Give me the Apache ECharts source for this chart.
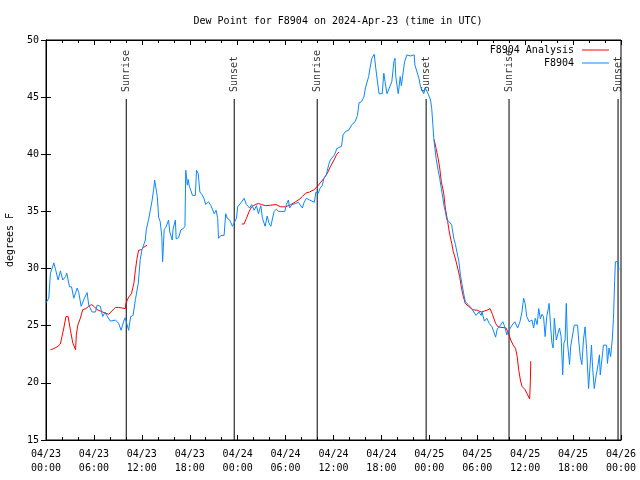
<!DOCTYPE html>
<html><head><meta charset="utf-8">
<script src="https://cdn.jsdelivr.net/npm/echarts@6/dist/echarts.min.js"></script>
<style>html,body{margin:0;padding:0;background:#fff}#c{width:640px;height:480px}</style>
</head><body><div id="c"></div>
<script>
// ---- data (hours since 2024-04-23 00:00 UTC, dew point °F) ----
const xTickLabels = ['04/23\n00:00','04/23\n06:00','04/23\n12:00','04/23\n18:00',
  '04/24\n00:00','04/24\n06:00','04/24\n12:00','04/24\n18:00',
  '04/25\n00:00','04/25\n06:00','04/25\n12:00','04/25\n18:00','04/26\n00:00'];
const yTicks = [15,20,25,30,35,40,45,50];

const obsHours = [0.0,0.35,0.56,0.75,0.98,1.2,1.52,1.8,2.1,2.45,2.6,2.94,3.2,3.48,3.9,4.1,4.4,4.8,5.15,5.35,5.77,6.2,6.4,6.8,7.1,7.4,7.6,8.06,8.7,9.1,9.4,9.73,9.9,10.1,10.35,10.6,10.9,11.2,11.55,11.8,12.0,12.44,12.56,12.85,13.06,13.27,13.48,13.6,13.8,13.94,14.1,14.3,14.5,14.6,14.8,15.0,15.35,15.5,15.8,15.9,16.2,16.3,16.6,16.9,17.2,17.4,17.5,17.7,17.8,17.95,18.35,18.7,18.85,19.06,19.27,19.5,19.8,20.0,20.35,20.65,20.9,21.06,21.3,21.5,21.6,21.9,22.3,22.5,22.7,23.0,23.35,23.56,23.85,24.0,24.35,24.56,24.8,25.1,25.3,25.5,25.75,26.06,26.35,26.6,26.9,27.1,27.44,27.7,27.9,28.15,28.56,28.85,29.1,29.9,30.1,30.35,30.5,30.8,31.27,31.6,32.1,32.3,32.6,33.0,33.6,33.8,34.1,34.3,34.6,34.8,35.1,35.2,35.4,35.6,35.85,36.06,36.27,36.4,37.0,37.2,37.5,37.9,38.3,38.7,39.0,39.2,39.5,39.8,40.0,40.4,40.56,40.8,41.1,41.3,41.5,41.7,42.1,42.3,42.45,42.7,42.9,43.3,43.56,43.7,43.8,44.1,44.2,44.35,44.5,44.9,45.2,45.6,46.1,46.2,46.7,46.9,47.1,47.3,47.5,47.7,47.9,48.15,48.3,48.44,48.56,48.7,48.85,49.1,49.3,49.5,49.7,49.8,50.0,50.2,50.5,50.8,51.06,51.27,51.5,51.7,51.9,52.1,52.3,52.5,52.94,53.3,53.56,53.85,54.2,54.5,54.6,54.9,55.2,55.5,55.85,56.0,56.3,56.5,56.9,57.2,57.5,57.7,57.9,58.35,58.7,59.06,59.35,59.6,59.8,60.0,60.2,60.5,60.85,61.06,61.27,61.5,61.7,61.9,62.1,62.3,62.5,62.7,62.9,63.0,63.2,63.35,63.5,63.65,63.9,64.06,64.3,64.5,64.7,64.85,65.0,65.15,65.3,65.56,65.7,65.9,66.15,66.56,66.7,66.9,67.1,67.3,67.5,67.7,67.94,68.15,68.3,68.44,68.65,68.9,69.06,69.3,69.4,69.6,69.8,70.2,70.3,70.5,70.7,70.9,71.06,71.2,71.3,71.6,71.75];
const obsDew = [27.0,27.4,29.6,29.5,30.5,29.9,29.0,29.8,29.0,29.3,29.6,28.4,28.4,27.4,28.3,27.9,26.7,27.4,27.9,26.8,26.2,26.2,26.8,26.7,25.8,26.2,25.9,25.4,25.5,25.2,24.6,25.4,25.7,25.8,24.6,25.8,25.9,27.3,28.7,30.8,31.6,32.5,33.4,34.3,35.1,35.9,36.9,37.75,37.75,36.3,34.5,34.1,32.8,30.6,33.4,33.6,34.25,33.2,32.5,33.4,34.25,32.6,32.7,33.4,33.5,33.7,38.6,37.3,37.8,37.2,36.4,36.4,38.6,38.3,36.7,36.5,36.1,35.6,35.85,35.5,35.5,34.8,35.1,34.4,32.65,32.9,32.9,34.8,34.4,34.25,33.7,34.0,34.4,35.4,35.7,35.9,36.15,35.6,35.7,35.3,35.6,35.1,35.5,34.8,35.5,34.4,33.7,34.6,34.0,33.7,35.0,35.2,35.0,35.0,35.6,36.0,35.3,35.6,35.7,35.8,35.3,35.75,36.15,36.0,35.8,36.7,36.6,37.0,37.3,37.9,38.2,38.5,39.1,39.5,39.35,39.9,40.2,40.5,40.7,41.7,42.0,42.1,42.6,42.85,43.4,44.5,44.6,45.0,45.8,46.8,47.5,48.4,48.75,47.5,47.5,45.3,45.3,47.1,46.35,45.3,45.3,46.35,48.1,48.4,46.8,45.3,45.8,46.8,46.0,48.1,48.7,48.6,48.7,47.8,46.65,45.9,45.8,45.3,45.8,45.5,45.2,44.75,44.0,42.6,41.4,40.5,39.65,38.6,37.9,37.0,36.15,35.6,35.0,34.25,34.1,33.8,32.65,32.1,32.1,30.6,29.4,28.6,27.8,27.1,26.8,26.5,26.2,25.9,26.2,25.9,26.2,25.4,25.65,25.2,24.9,25.0,24.0,24.7,25.05,25.35,24.8,24.2,24.5,25.05,25.35,24.8,25.35,26.2,27.4,26.95,25.8,25.35,25.5,24.8,25.65,25.1,26.5,25.6,26.0,25.8,24.05,25.8,26.5,26.95,24.8,23.5,23.05,25.65,23.75,24.2,24.8,24.05,20.7,23.5,23.75,26.95,23.5,21.6,23.2,23.3,25.05,25.05,23.75,22.3,21.6,23.75,24.9,22.9,19.5,19.5,23.3,21.4,19.5,20.7,21.3,22.45,20.7,22.0,23.3,23.3,21.7,23.05,22.3,23.75,25.65,28.85,30.6,30.6,29.9];

// analysis: null marks a gap between runs
const anaHours = [0.56,1.0,1.5,1.8,2.0,2.23,2.5,2.77,3.06,3.35,3.5,3.7,3.8,3.98,4.3,4.6,5.0,5.35,5.7,6.0,6.4,7.1,7.44,7.85,8.27,8.7,9.1,9.94,10.0,10.35,10.7,11.0,11.2,11.4,11.6,11.94,12.2,12.65,
  18.0,
  24.5,24.8,25.1,25.44,25.75,26.2,26.6,27.0,27.5,28.15,28.8,29.4,30.0,30.65,31.27,31.8,32.1,32.5,33.0,33.56,34.0,34.4,34.8,35.2,35.6,36.06,36.4,36.7,
  42.0,
  48.6,48.85,49.1,49.3,49.5,49.8,50.0,50.3,50.5,50.8,51.0,51.3,51.56,51.8,52.0,52.2,52.5,52.9,53.45,54.0,54.5,55.2,55.6,55.9,56.06,56.3,56.6,57.6,57.9,58.2,58.5,58.8,59.0,59.2,59.4,59.6,60.0,60.2,60.56,60.65,60.7];
const anaDew = [22.9,23.0,23.2,23.4,24.05,24.8,25.8,25.8,24.6,23.5,23.5,22.9,24.2,25.05,25.65,26.4,26.5,26.7,26.85,26.7,26.4,26.2,26.1,26.0,26.3,26.6,26.6,26.5,26.95,27.5,27.8,28.7,29.9,30.9,31.6,31.65,31.85,32.05,
  null,
  33.9,33.9,34.4,35.0,35.4,35.6,35.7,35.6,35.5,35.55,35.6,35.4,35.4,35.6,35.85,36.1,36.3,36.6,36.7,36.9,37.2,37.55,37.9,38.3,38.9,39.5,40.0,40.2,
  null,
  41.3,40.5,39.65,38.8,37.6,36.6,35.3,34.1,33.2,32.2,31.5,30.75,30.0,29.3,28.4,27.7,26.95,26.7,26.4,26.35,26.2,26.35,26.5,26.0,25.9,25.2,24.9,24.8,24.35,23.75,23.3,23.0,22.3,21.1,20.25,19.7,19.4,19.1,18.6,20.1,21.9];

const sunNames = ['Sunrise','Sunset','Sunrise','Sunset','Sunrise','Sunset'];
const sunHours = [10.05,23.57,33.96,47.6,57.98,71.63];
const sunLineTop = 44.84;
const sunLabelBase = 45.45;

// ---- chart ----
const FONT = 'DejaVu Sans Mono';
const txt = {fontFamily: FONT, fontSize: 10, color: '#000'};
const BLUE = '#0a88ff', RED = '#ff0000';

const obsData = obsHours.map((h,i)=>[h, obsDew[i]]);
const anaData = anaHours.map((h,i)=> anaDew[i]===null ? [h,'-'] : [h, anaDew[i]]);

const sunLineSeries = sunHours.map(h => ({
  type:'line', silent:true, symbol:'none', animation:false,
  lineStyle:{color:'#000', width:1}, data:[[h,15],[h,sunLineTop]], z:1
}));

const chart = echarts.init(document.getElementById('c'), null, {renderer:'canvas'});
chart.setOption({
  animation:false,
  backgroundColor:'#fff',
  title:{text:'Dew Point for F8904 on 2024-Apr-23 (time in UTC)', left:333, top:11, textAlign:'center',
    textStyle:Object.assign({fontWeight:'normal'}, txt)},
  grid:{left:46, right:19, top:40, bottom:40, containLabel:false, outerBoundsMode:'none',
    show:true, borderColor:'#000', borderWidth:1},
  legend:{orient:'vertical', right:31, top:44, padding:0, align:'right', itemWidth:27, itemHeight:1, itemGap:1,
    icon:'rect', textStyle:Object.assign({lineHeight:12, padding:[0,3,0,0]}, txt),
    data:[{name:'F8904 Analysis'},{name:'F8904'}]},
  xAxis:[{type:'value', min:0, max:72, interval:6, position:'bottom',
      axisLine:{lineStyle:{color:'#000'}}, splitLine:{show:false},
      axisTick:{inside:true, length:5, lineStyle:{color:'#000'}},
      minorTick:{show:true, splitNumber:3, length:3, lineStyle:{color:'#000'}},
      axisLabel:Object.assign({margin:7, lineHeight:14, showMinLabel:true, showMaxLabel:true,
        formatter:v=>xTickLabels[Math.round(v/6)]}, txt)},
    {type:'value', min:0, max:72, interval:6, position:'top',
      axisLine:{lineStyle:{color:'#000'}}, splitLine:{show:false},
      axisTick:{inside:true, length:5, lineStyle:{color:'#000'}},
      minorTick:{show:true, splitNumber:3, length:3, lineStyle:{color:'#000'}},
      axisLabel:{show:false}}],
  yAxis:[{type:'value', min:15, max:50, interval:5, position:'left',
      name:'degrees F', nameLocation:'middle', nameGap:31, nameRotate:90, nameTextStyle:txt,
      axisLine:{lineStyle:{color:'#000'}}, splitLine:{show:false},
      axisTick:{inside:true, length:5, lineStyle:{color:'#000'}},
      axisLabel:Object.assign({margin:7, formatter:v=> yTicks.indexOf(v)>=0 ? String(v) : ''}, txt)},
    {type:'value', min:15, max:50, interval:5, position:'right',
      axisLine:{lineStyle:{color:'#000'}}, splitLine:{show:false},
      axisTick:{inside:true, length:5, lineStyle:{color:'#000'}},
      axisLabel:{show:false}}],
  series:[
    ...sunLineSeries,
    {type:'scatter', silent:true, symbolSize:0, z:2,
      data:sunHours.map((h,i)=>({value:[h,sunLabelBase], name:sunNames[i]})),
      label:Object.assign({show:true, position:'inside', rotate:90, align:'left', verticalAlign:'middle',
        formatter:p=>p.name}, txt)},
    {name:'F8904 Analysis', type:'line', data:anaData, symbol:'none', connectNulls:false,
      lineStyle:{color:RED, width:1}, itemStyle:{color:RED}, z:3},
    {name:'F8904', type:'line', data:obsData, symbol:'none',
      lineStyle:{color:BLUE, width:1}, itemStyle:{color:BLUE}, z:4}
  ]
});
</script>
</body></html>
